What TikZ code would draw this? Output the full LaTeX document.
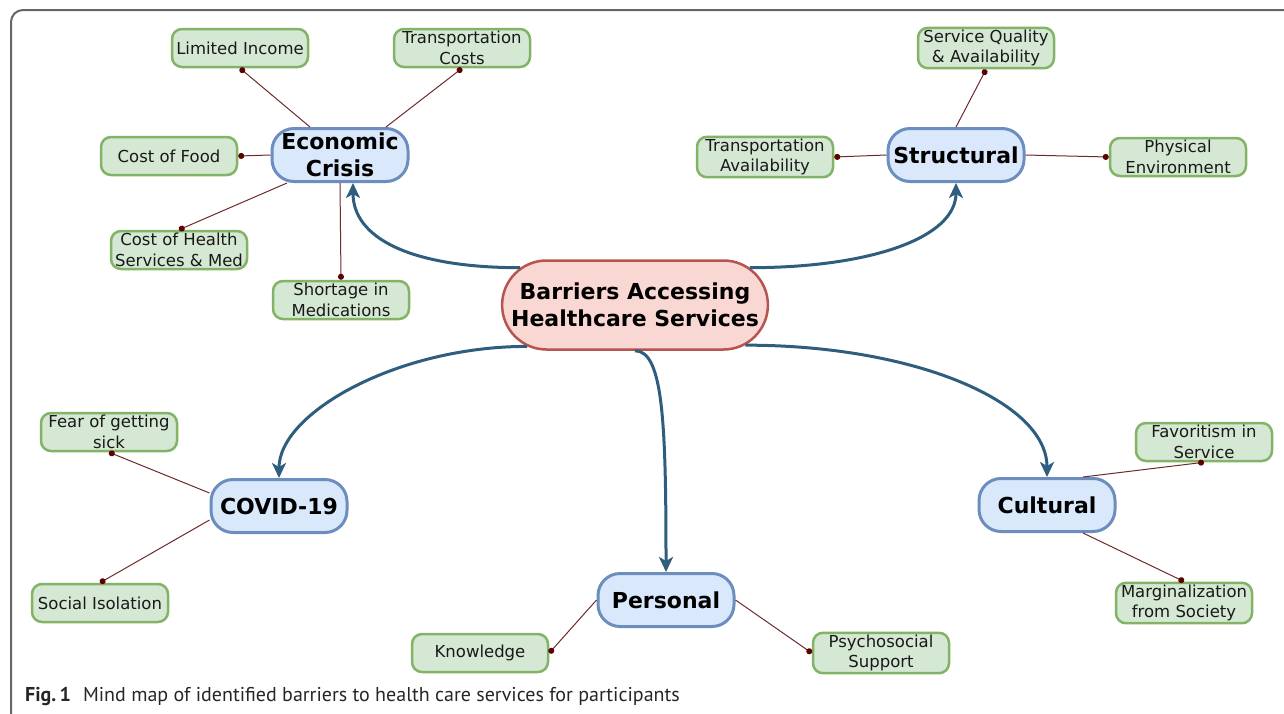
\documentclass[tikz,border=0pt]{standalone}
\usepackage{fontspec}
\setmainfont{DejaVu Sans}
\newfontfamily\capfont{PT Sans}
\usetikzlibrary{arrows.meta, positioning, shapes.misc}
\definecolor{leaffill}{HTML}{D5E8D4}
\definecolor{leafdraw}{HTML}{82B366}
\definecolor{topicfill}{HTML}{DAE8FC}
\definecolor{topicdraw}{HTML}{6C8EBF}
\definecolor{hubfill}{HTML}{F9D7D3}
\definecolor{hubdraw}{HTML}{B85450}
\definecolor{branchcol}{HTML}{2E5D7E}
\definecolor{twigcol}{HTML}{6E2A2A}
\definecolor{dotcol}{HTML}{5C0000}
\tikzset{
  leaf/.style={draw=leafdraw, fill=leaffill, line width=2.5pt, rounded corners=10pt,
    minimum width=136pt, minimum height=38pt, inner sep=2pt, align=center,
    text=black!90, font=\fontsize{16.5}{20.5}\selectfont},
  topic/.style={draw=topicdraw, fill=topicfill, line width=3pt, rounded corners=22pt,
    minimum width=136pt, minimum height=53pt, align=center,
    font=\fontsize{22}{26.5}\selectfont\bfseries},
  hub/.style={rounded rectangle, draw=hubdraw, fill=hubfill, line width=2.5pt,
    minimum width=261pt, minimum height=89pt, align=center,
    font=\fontsize{22}{26.5}\selectfont\bfseries},
  branch/.style={draw=branchcol, line width=3pt, -{Stealth[length=15pt,width=14pt,inset=4pt]}},
  twig/.style={draw=twigcol, line width=1pt, -{Circle[length=6pt,color=dotcol]}},
}

\begin{document}
\begin{tikzpicture}[x=1pt,y=-1pt]
      \clip (0,0) rectangle (1284,713);
      \draw[black!60, line width=2pt, rounded corners=12pt] (11,10) rectangle (1310,740);

      \node[hub] (root) at (635,305) {Barriers Accessing\\Healthcare Services};
      \node[topic] (ec) at (340,155) {Economic\\Crisis};
      \node[topic] (st) at (956,155) {Structural};
      \node[topic] (cov) at (279,506) {COVID-19};
      \node[topic] (per) at (666,600) {Personal};
      \node[topic] (cul) at (1047,505) {Cultural};

      % economic crisis
      \node[leaf] (li) at (240,48) {Limited Income};
      \node[leaf] (tc) at (462,48) {Transportation\\Costs};
      \node[leaf] (cf) at (169,156) {Cost of Food};
      \node[leaf] (ch) at (179,250) {Cost of Health\\Services \& Med};
      \node[leaf] (sm) at (341,300) {Shortage in\\Medications};
      % structural
      \node[leaf] (sq) at (986,48) {Service Quality\\\& Availability};
      \node[leaf] (ta) at (765,157) {Transportation\\Availability};
      \node[leaf] (pe) at (1178,157) {Physical\\Environment};
      % covid
      \node[leaf] (fs) at (109,432) {Fear of getting\\sick};
      \node[leaf] (si) at (100,603) {Social Isolation};
      % personal
      \node[leaf] (kn) at (480,653) {Knowledge};
      \node[leaf] (ps) at (881,653) {Psychosocial\\Support};
      % cultural
      \node[leaf] (fav) at (1204,442) {Favoritism in\\Service};
      \node[leaf] (mar) at (1184,603) {Marginalization\\from Society};

      \draw[branch] (root.162) .. controls +(-110,0) and +(0,55) .. ([xshift=13pt]ec.south);
      \draw[branch] (root.18) .. controls +(120,0) and +(0,55) .. (st.south);
      \draw[branch] (root.201) .. controls +(-130,0) and +(0,-65) .. (cov.north);
      \draw[branch] (root.-20) .. controls +(170,0) and +(0,-75) .. (cul.north);
      \draw[branch] (root.south) .. controls +(28,0) and +(0,-150) .. (per.north);

      \path ([xshift=-30pt]ec.north) edge[twig] (li.south)
            ([xshift=46pt]ec.north) edge[twig] (tc.south)
            (ec.west) edge[twig] (cf.east)
            ([xshift=-53pt]ec.south) edge[twig] (ch.north)
            (ec.south) edge[twig] (sm.north)
            (st.north) edge[twig] (sq.south)
            (st.west) edge[twig] (ta.east)
            (st.east) edge[twig] (pe.west)
            ([yshift=13pt]cov.west) edge[twig] (fs.south)
            ([yshift=-14pt]cov.west) edge[twig] (si.north)
            (per.west) edge[twig] (kn.east)
            (per.east) edge[twig] (ps.west)
            ([xshift=36pt]cul.north) edge[twig] (fav.south)
            ([xshift=36pt]cul.south) edge[twig] (mar.north);

      \node[anchor=base west, inner sep=0pt, text=black!85, font=\capfont\fontsize{20}{24}\selectfont] (cap) at (25,701)
        {\textbf{Fig.\,1}\hspace{12pt}Mind map of identified barriers to health care services for participants};
    \end{tikzpicture}
\end{document}
